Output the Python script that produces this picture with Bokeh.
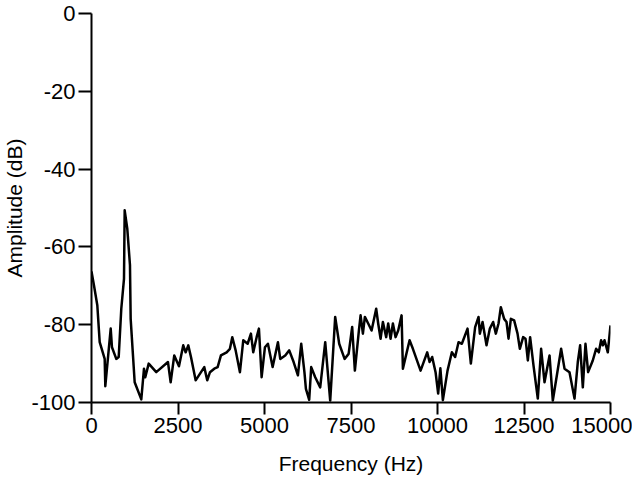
from bokeh.plotting import figure
from bokeh.models import Range1d, FixedTicker
from bokeh.embed import file_html
from bokeh.resources import INLINE

freq_hz = [0, 72, 168, 237, 381, 399, 555, 592, 716, 786, 861, 939, 959, 1034, 1112, 1132,
           1248, 1439, 1517, 1554, 1653, 1872, 2210, 2288, 2392, 2528, 2652, 2721, 2797, 2875,
           3010, 3259, 3345, 3424, 3548, 3646, 3741, 3906, 4001, 4068, 4166, 4290, 4386, 4513,
           4608, 4675, 4773, 4839, 4917, 5012, 5099, 5235, 5388, 5455, 5599, 5715, 5842, 5966,
           6061, 6154, 6197, 6292, 6350, 6466, 6610, 6755, 6899, 7043, 7159, 7315, 7431, 7534,
           7612, 7728, 7777, 7844, 7901, 7997, 8095, 8228, 8286, 8355, 8422, 8517, 8575, 8644,
           8711, 8789, 8864, 8962, 9000, 9193, 9289, 9511, 9702, 9771, 9846, 9944, 10019, 10083,
           10155, 10290, 10415, 10510, 10608, 10704, 10868, 10964, 11088, 11186, 11224, 11302,
           11417, 11513, 11608, 11686, 11764, 11830, 11926, 11995, 12053, 12120, 12215, 12313,
           12380, 12475, 12544, 12611, 12677, 12775, 12899, 12995, 13093, 13238, 13333, 13573,
           13671, 13815, 13960, 14055, 14122, 14200, 14277, 14353, 14488, 14584, 14662, 14728,
           14778, 14827, 14922, 15000]

amplitude_db = [-66.3, -69.9, -75.0, -84.5, -88.8, -95.8, -81.0, -85.8, -88.8, -88.3, -75.9, -68.2,
                -50.6, -55.3, -64.7, -78.5, -94.8, -99.2, -91.3, -93.5, -90.0, -92.2, -89.6, -94.8,
                -87.9, -90.7, -85.3, -87.1, -85.3, -88.3, -94.3, -90.9, -94.3, -92.2, -91.3, -90.9,
                -87.9, -87.1, -86.2, -83.2, -86.6, -92.2, -84.0, -84.9, -82.3, -87.1, -83.2, -81.0,
                -93.5, -85.8, -84.9, -90.9, -84.5, -88.8, -87.9, -86.6, -89.6, -93.0, -84.9, -92.2,
                -96.5, -99.3, -90.9, -93.5, -96.1, -84.5, -99.5, -78.0, -84.9, -88.8, -87.5, -80.6,
                -91.8, -81.5, -77.6, -82.3, -78.0, -79.7, -81.5, -75.9, -79.7, -83.6, -79.3, -83.2,
                -79.7, -83.6, -79.7, -83.2, -81.5, -77.6, -91.3, -84.0, -86.2, -91.8, -87.1, -89.6,
                -88.3, -92.2, -97.7, -91.2, -99.4, -91.8, -87.1, -88.3, -84.5, -84.9, -81.0, -90.0,
                -80.6, -78.0, -82.3, -79.3, -85.3, -81.0, -79.3, -82.3, -79.7, -75.5, -78.5, -79.3,
                -83.6, -78.5, -78.9, -82.3, -86.2, -83.2, -83.6, -89.2, -83.2, -90.5, -99.0, -86.2,
                -94.8, -87.9, -99.5, -86.2, -91.3, -92.2, -99.0, -89.6, -85.3, -96.1, -84.9, -92.2,
                -89.2, -86.2, -87.1, -84.0, -85.3, -84.0, -87.1, -80.2]

x_ticks = [0, 2500, 5000, 7500, 10000, 12500, 15000]
y_ticks = [0, -20, -40, -60, -80, -100]
x_tick_labels = ["0", "2500", "5000", "7500", "10000", "12500", "15000"]
y_tick_labels = ["0", "-20", "-40", "-60", "-80", "-100"]

FONT = "Liberation Sans"

p = figure(frame_width=519, frame_height=389, output_backend="svg", toolbar_location=None,
           x_range=Range1d(0, 15000), y_range=Range1d(-100, 0),
           min_border_left=88, min_border_right=22, min_border_top=13, min_border_bottom=60)
p.outline_line_color = None
p.xgrid.grid_line_color = None
p.ygrid.grid_line_color = None
p.background_fill_color = "white"
p.border_fill_color = "white"

p.line(freq_hz, amplitude_db, line_color="black", line_width=2.5, line_join="round")

for ax in (p.xaxis[0], p.yaxis[0]):
    ax.axis_line_color = "black"
    ax.axis_line_width = 2
    ax.major_tick_line_color = "black"
    ax.major_tick_line_width = 2
    ax.major_tick_in = 0
    ax.minor_tick_line_color = None
    ax.major_label_text_font = FONT
    ax.major_label_text_font_size = "22px"
    ax.major_label_text_color = "black"
    ax.axis_label_text_font = FONT
    ax.axis_label_text_font_style = "normal"
    ax.axis_label_text_color = "black"

p.xaxis[0].ticker = FixedTicker(ticks=x_ticks)
p.yaxis[0].ticker = FixedTicker(ticks=y_ticks)
p.xaxis[0].major_label_overrides = dict(zip(x_ticks, x_tick_labels))
p.yaxis[0].major_label_overrides = dict(zip(y_ticks, y_tick_labels))
p.xaxis[0].major_tick_out = 12
p.yaxis[0].major_tick_out = 13
p.xaxis[0].major_label_standoff = 3
p.yaxis[0].major_label_standoff = 3
p.xaxis[0].axis_label = "Frequency (Hz)"
p.yaxis[0].axis_label = "Amplitude (dB)"
p.xaxis[0].axis_label_text_font_size = "21px"
p.yaxis[0].axis_label_text_font_size = "21px"
p.xaxis[0].axis_label_standoff = 16
p.yaxis[0].axis_label_standoff = 2

open("out.html", "w").write(file_html(p, INLINE))
